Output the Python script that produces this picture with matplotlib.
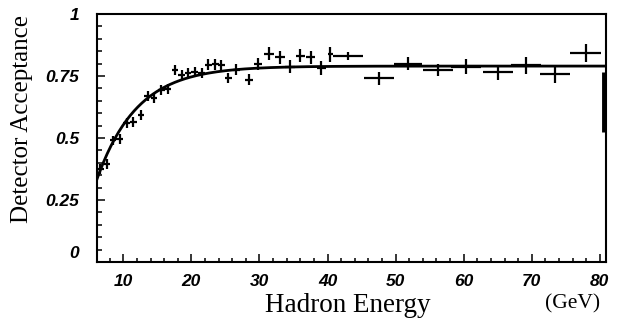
import matplotlib
matplotlib.use("Agg")
import matplotlib.pyplot as plt
import matplotlib.transforms as mtransforms
from matplotlib.ticker import MultipleLocator, FixedLocator
import numpy as np

# Measured acceptance per hadron-energy bin
energy = [6.6, 7.6, 8.5, 9.5, 10.5, 11.5, 12.6, 13.6, 14.5, 15.6, 16.5,
          17.6, 18.6, 19.5, 20.5, 21.5, 22.5, 23.5, 24.4, 25.4, 26.6, 28.5,
          29.8, 31.4, 33.0, 34.5, 36.0, 37.5, 39.1, 40.4,
          43.0, 47.5, 51.8, 56.2, 60.3, 65.0, 69.2, 73.4, 77.9]
acceptance = [0.375, 0.395, 0.49, 0.495, 0.56, 0.566, 0.592, 0.668, 0.66, 0.694, 0.697,
              0.775, 0.755, 0.763, 0.768, 0.763, 0.795, 0.798, 0.793, 0.742, 0.775, 0.735,
              0.80, 0.84, 0.825, 0.788, 0.832, 0.826, 0.781, 0.838,
              0.83, 0.74, 0.80, 0.775, 0.788, 0.765, 0.794, 0.757, 0.843]
energy_err = [0.5, 0.5, 0.5, 0.5, 0.5, 0.5, 0.5, 0.5, 0.5, 0.5, 0.5,
              0.5, 0.5, 0.5, 0.5, 0.5, 0.5, 0.5, 0.5, 0.5, 0.5, 0.6,
              0.6, 0.7, 0.7, 0.7, 0.7, 0.7, 0.7, 0.4,
              2.2, 2.2, 2.1, 2.2, 2.2, 2.2, 2.2, 2.2, 2.3]
acceptance_err = [0.02, 0.02, 0.02, 0.02, 0.02, 0.02, 0.02, 0.02, 0.02, 0.02, 0.02,
                  0.02, 0.02, 0.02, 0.02, 0.02, 0.022, 0.022, 0.022, 0.022, 0.022, 0.022,
                  0.024, 0.025, 0.025, 0.026, 0.026, 0.026, 0.028, 0.03,
                  0.015, 0.027, 0.027, 0.024, 0.029, 0.03, 0.034, 0.034, 0.037]

# Last, wide bin at the edge of the range
edge_energy = [80.6]
edge_acceptance = [0.645]
edge_acceptance_err = [0.12]

# Saturating fit: A - B * exp(-E / tau)
fit_A, fit_B, fit_tau = 0.79, 1.29, 5.9

x_ticks = [10, 20, 30, 40, 50, 60, 70, 80]
y_ticks = [0, 0.25, 0.5, 0.75, 1]
y_tick_labels = ["0", "0.25", "0.5", "0.75", "1"]
x_range = (6.14, 80.9)

fig = plt.figure(figsize=(6.21, 3.32), dpi=100)
ax = fig.add_axes([97 / 621, 1 - 262 / 332, (606 - 97) / 621, (262 - 14) / 332])

ax.errorbar(energy, acceptance, xerr=energy_err, yerr=acceptance_err,
            fmt="none", ecolor="black", elinewidth=1.6, capsize=0)
ax.errorbar(edge_energy, edge_acceptance, yerr=edge_acceptance_err,
            fmt="none", ecolor="black", elinewidth=3.5, capsize=0)

e_fit = np.linspace(x_range[0], x_range[1], 400)
ax.plot(e_fit, fit_A - fit_B * np.exp(-e_fit / fit_tau), color="black", lw=2.0)

ax.set_xlim(*x_range)
ax.set_ylim(0, 1)

tick_font = dict(family="Liberation Sans", weight="bold", style="italic", size=12.5)
ax.xaxis.set_major_locator(FixedLocator(x_ticks))
ax.xaxis.set_minor_locator(MultipleLocator(2))
ax.yaxis.set_major_locator(FixedLocator(y_ticks))
ax.yaxis.set_minor_locator(MultipleLocator(0.05))
ax.set_xticklabels([str(t) for t in x_ticks], fontdict=tick_font)
ax.set_yticklabels(y_tick_labels, fontdict=tick_font)

ax.tick_params(which="both", direction="in", top=False, right=False, color="black")
ax.tick_params(axis="x", which="major", length=6, width=1.1, pad=9)
ax.tick_params(axis="x", which="minor", length=3, width=1.1)
ax.tick_params(axis="y", which="major", length=6, width=1.1, pad=13)
ax.tick_params(axis="y", which="minor", length=3.5, width=1.1)

# lift the "0" label clear of the x-axis labels
zero_label = ax.get_yticklabels()[0]
zero_label.set_transform(zero_label.get_transform() +
                         mtransforms.ScaledTranslation(0, 10 / 100, fig.dpi_scale_trans))

for s in ax.spines.values():
    s.set_linewidth(1.5)

fig.text(348 / 621, 1 - 305 / 332, "Hadron Energy", ha="center", va="center",
         family="Liberation Serif", size=19.5)
fig.text(573 / 621, 1 - 304 / 332, "(GeV)", ha="center", va="center",
         family="Liberation Serif", size=15.5)
fig.text(22 / 621, 1 - 119 / 332, "Detector Acceptance", ha="center", va="center",
         rotation=90, family="Liberation Serif", size=18)

fig.savefig("out.png", dpi=100)
